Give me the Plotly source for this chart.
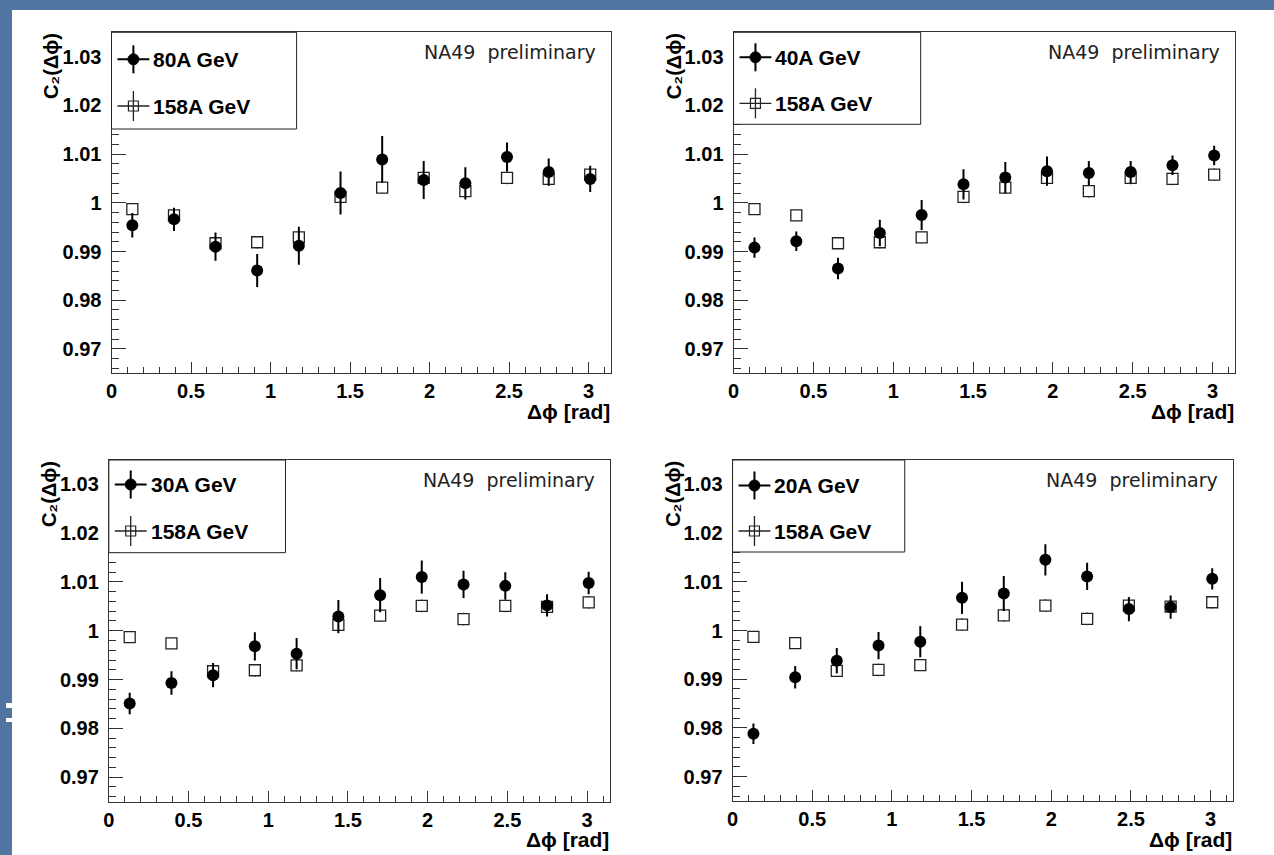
import plotly.graph_objects as go

W, H = 1274, 855

# ---------------- data ----------------
phi = [0.131, 0.393, 0.654, 0.916, 1.178, 1.440, 1.702, 1.963, 2.225, 2.487, 2.749, 3.010]

ref_label = "158A GeV"
ref_c2 = [0.9987, 0.9974, 0.9917, 0.9919, 0.9929, 1.0012, 1.0031, 1.0051, 1.0024, 1.0051, 1.0049, 1.0058]
ref_err = [0.0008, 0.0009, 0.0010, 0.0013, 0.0012, 0.0013, 0.0013, 0.0013, 0.0013, 0.0013, 0.0013, 0.0013]

labels = ["80A GeV", "40A GeV", "30A GeV", "20A GeV"]
c2_80 = [0.9954, 0.9966, 0.9910, 0.9861, 0.9912, 1.0020, 1.0089, 1.0047, 1.0040, 1.0094, 1.0063, 1.0049]
err_80 = [0.0025, 0.0024, 0.0029, 0.0034, 0.0039, 0.0044, 0.0048, 0.0039, 0.0033, 0.0030, 0.0028, 0.0027]
c2_40 = [0.9908, 0.9921, 0.9865, 0.9938, 0.9975, 1.0038, 1.0052, 1.0065, 1.0061, 1.0063, 1.0077, 1.0097]
err_40 = [0.0021, 0.0020, 0.0022, 0.0027, 0.0031, 0.0031, 0.0032, 0.0030, 0.0025, 0.0023, 0.0020, 0.0020]
c2_30 = [0.9851, 0.9893, 0.9909, 0.9968, 0.9953, 1.0029, 1.0073, 1.0110, 1.0095, 1.0092, 1.0052, 1.0098]
err_30 = [0.0022, 0.0024, 0.0025, 0.0029, 0.0032, 0.0034, 0.0035, 0.0034, 0.0028, 0.0028, 0.0023, 0.0023]
c2_20 = [0.9788, 0.9904, 0.9938, 0.9969, 0.9977, 1.0067, 1.0076, 1.0145, 1.0111, 1.0044, 1.0048, 1.0106]
err_20 = [0.0021, 0.0023, 0.0026, 0.0028, 0.0032, 0.0033, 0.0036, 0.0032, 0.0028, 0.0025, 0.0024, 0.0022]

series = [c2_80, c2_40, c2_30, c2_20]
errors = [err_80, err_40, err_30, err_20]

x_tickvals = [0, 0.5, 1, 1.5, 2, 2.5, 3]
x_ticktext = ["0", "0.5", "1", "1.5", "2", "2.5", "3"]
y_tickvals = [0.97, 0.98, 0.99, 1.0, 1.01, 1.02, 1.03]
y_ticktext = ["0.97", "0.98", "0.99", "1", "1.01", "1.02", "1.03"]

x_title = "Δϕ [rad]"
y_title = "C₂(Δϕ)"
tag_text = "NA49\u00a0 preliminary"

# ---------------- layout geometry (pixels) ----------------
frames = [  # left, top, right, bottom
    (106, 32.3, 608, 373.3),
    (731, 32.3, 1235, 373.3),
    (103.3, 460, 606.5, 801.5),
    (730, 460, 1233, 801),
]
leg_w = [186, 188, 177.5, 173]
leg_h = [96.7, 92, 92.7, 92]
leg_r1 = [27, 25, 24.5, 25.5]
leg_r2 = [73.7, 71, 71, 71]


def px(x):
    return x / W


def py(y):
    return 1 - y / H


FAM = "Liberation Sans, Arial, sans-serif"
LINE = "#333333"

fig = go.Figure()
shapes = []
annotations = []

# page background: blue slide border with white area
shapes.append(dict(type="rect", xref="paper", yref="paper", x0=px(6), x1=1, y0=0, y1=py(10),
                   fillcolor="white", line=dict(width=0), layer="below"))
for (a, b) in [(703, 708), (718, 722)]:
    shapes.append(dict(type="rect", xref="paper", yref="paper", x0=0, x1=px(6), y0=py(b), y1=py(a),
                       fillcolor="white", line=dict(width=0), layer="below"))

for i in range(4):
    n = "" if i == 0 else str(i + 1)
    L, T, R, B = frames[i]
    xa = dict(
        domain=[px(L), px(R)], anchor="y" + n, range=[0, 3.14159],
        showline=True, linecolor=LINE, linewidth=1, mirror=True,
        ticks="inside", ticklen=11, tickwidth=1, tickcolor=LINE,
        tickvals=x_tickvals, ticktext=x_ticktext,
        minor=dict(ticks="inside", ticklen=6, tickwidth=1, tickcolor=LINE, dtick=0.1, tick0=0),
        showgrid=False, zeroline=False,
        tickfont=dict(size=20, family=FAM, weight="bold", color="black"),
    )
    ya = dict(
        domain=[py(B), py(T)], anchor="x" + n, range=[0.965, 1.035],
        showline=True, linecolor=LINE, linewidth=1, mirror=True,
        ticks="inside", ticklen=14, tickwidth=1, tickcolor=LINE,
        tickvals=y_tickvals, ticktext=y_ticktext,
        minor=dict(ticks="inside", ticklen=7, tickwidth=1, tickcolor=LINE, dtick=0.002, tick0=0.96),
        showgrid=False, zeroline=False,
        tickfont=dict(size=20, family=FAM, weight="bold", color="black"),
        ticklabelstandoff=5,
    )
    fig.layout["xaxis" + n] = xa
    fig.layout["yaxis" + n] = ya

    # reference 158A GeV (open squares)
    fig.add_trace(go.Scatter(
        x=phi, y=ref_c2, mode="markers", xaxis="x" + n, yaxis="y" + n,
        marker=dict(symbol="square", size=11, color="white", line=dict(color="#222222", width=1.3)),
        error_y=dict(type="data", array=ref_err, visible=True, color="#222222", thickness=1.2, width=0),
        showlegend=False, hoverinfo="skip",
    ))
    # energy series (full circles)
    fig.add_trace(go.Scatter(
        x=phi, y=series[i], mode="markers", xaxis="x" + n, yaxis="y" + n,
        marker=dict(symbol="circle", size=12, color="black"),
        error_y=dict(type="data", array=errors[i], visible=True, color="black", thickness=2, width=0),
        showlegend=False, hoverinfo="skip",
    ))

    # legend box
    shapes.append(dict(type="rect", xref="paper", yref="paper",
                       x0=px(L), x1=px(L + leg_w[i]), y0=py(T + leg_h[i]), y1=py(T),
                       fillcolor="white", line=dict(color="#222222", width=1), layer="above"))
    sx = L + 22
    r1 = T + leg_r1[i]
    r2 = T + leg_r2[i]
    # row 1: full circle with error cross
    shapes.append(dict(type="line", xref="paper", yref="paper", x0=px(sx - 16), x1=px(sx + 16),
                       y0=py(r1), y1=py(r1), line=dict(color="black", width=2), layer="above"))
    shapes.append(dict(type="line", xref="paper", yref="paper", x0=px(sx), x1=px(sx),
                       y0=py(r1 - 14), y1=py(r1 + 14), line=dict(color="black", width=2), layer="above"))
    shapes.append(dict(type="circle", xref="paper", yref="paper", x0=px(sx - 5.5), x1=px(sx + 5.5),
                       y0=py(r1 + 5.5), y1=py(r1 - 5.5), fillcolor="black",
                       line=dict(color="black", width=1), layer="above"))
    # row 2: open square with error cross
    shapes.append(dict(type="line", xref="paper", yref="paper", x0=px(sx - 16), x1=px(sx + 16),
                       y0=py(r2), y1=py(r2), line=dict(color="#222222", width=1.3), layer="above"))
    shapes.append(dict(type="line", xref="paper", yref="paper", x0=px(sx), x1=px(sx),
                       y0=py(r2 - 15), y1=py(r2 + 15), line=dict(color="#222222", width=1.3), layer="above"))
    shapes.append(dict(type="rect", xref="paper", yref="paper", x0=px(sx - 5), x1=px(sx + 5),
                       y0=py(r2 + 5), y1=py(r2 - 5), fillcolor="rgba(0,0,0,0)",
                       line=dict(color="#222222", width=1.2), layer="above"))

    annotations.append(dict(xref="paper", yref="paper", x=px(L + 40), y=py(r1), text=labels[i],
                            xanchor="left", yanchor="middle", showarrow=False,
                            font=dict(size=21, family=FAM, weight="bold", color="black")))
    annotations.append(dict(xref="paper", yref="paper", x=px(L + 40), y=py(r2), text=ref_label,
                            xanchor="left", yanchor="middle", showarrow=False,
                            font=dict(size=21, family=FAM, weight="bold", color="black")))
    annotations.append(dict(xref="paper", yref="paper", x=px(R - 13), y=py(T + 20), text=tag_text,
                            xanchor="right", yanchor="middle", showarrow=False,
                            font=dict(size=19, family="DejaVu Sans, sans-serif", color="#222222")))
    annotations.append(dict(xref="paper", yref="paper", x=px(R + 1), y=py(B + 38), text=x_title,
                            xanchor="right", yanchor="middle", showarrow=False,
                            font=dict(size=21, family=FAM, weight="bold", color="black")))
    annotations.append(dict(xref="paper", yref="paper", x=px(L - 60), y=py(T - 1), text=y_title,
                            textangle=-90, xanchor="center", yanchor="top", showarrow=False,
                            font=dict(size=20, family=FAM, weight="bold", color="black")))

fig.update_layout(
    width=W, height=H, margin=dict(l=0, r=0, t=0, b=0),
    paper_bgcolor="#5175a2", plot_bgcolor="white",
    showlegend=False, shapes=shapes, annotations=annotations, hovermode=False,
)

fig.write_html("out.html")
